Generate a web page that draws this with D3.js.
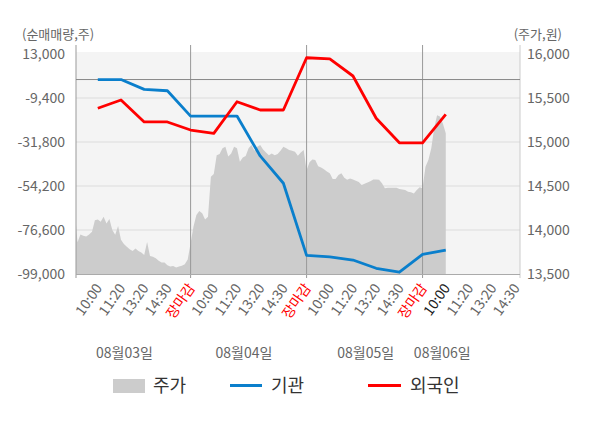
<!DOCTYPE html>
<html>
<head>
<meta charset="utf-8">
<script src="https://cdn.jsdelivr.net/npm/d3@7"></script>
<style>
  body { margin: 0; background: #fff; }
  text { font-family: "Noto Sans CJK KR", "Noto Sans", sans-serif; }
</style>
</head>
<body>
<svg id="chart" width="600" height="428"></svg>
<script>
// --- data -------------------------------------------------------------
const dayLabels = ['08월03일', '08월04일', '08월05일', '08월06일'];
const timeLabels = ['10:00', '11:20', '13:20', '14:30', '장마감',
                    '10:00', '11:20', '13:20', '14:30', '장마감',
                    '10:00', '11:20', '13:20', '14:30', '장마감',
                    '10:00', '11:20', '13:20', '14:30'];

// net buying (shares) at each labelled time, 08/03 10:00 .. 08/06 10:00
const institution = [0, 0, -5000, -5700, -18600, -18600, -18600, -38900,
                     -52800, -89500, -90300, -91900, -96100, -98100, -89000, -86800];
const foreign = [-14600, -10400, -21600, -21600, -25700, -27400, -11300, -15500,
                 -15500, 11100, 10500, 1800, -19700, -32200, -32200, -17700];

// intraday price (won), 8 samples per label step
const price0803 = [14240, 13860, 13950, 13935, 13925, 13950, 13980, 14110, 14120, 14095,
                   14150, 14075, 14125, 14000, 13945, 14045, 13890, 13840, 13810, 13780,
                   13760, 13790, 13760, 13745, 13715, 13865, 13705, 13695, 13680, 13650,
                   13630, 13630, 13600, 13585, 13590, 13575, 13585, 13595, 13610, 13665];
const price0804 = [13850, 14040, 14170, 14215, 14190, 14120, 14150, 14605, 14635, 14850,
                   14865, 14930, 14945, 14835, 14870, 14945, 14930, 14775, 14825, 14840,
                   14930, 14965, 14900, 14945, 14965, 14915, 14880, 14850, 14870, 14850,
                   14865, 14900, 14945, 14930, 14910, 14900, 14890, 14845, 14880, 14910];
const price0805 = [14680, 14770, 14800, 14795, 14725, 14710, 14690, 14665, 14645, 14580,
                   14580, 14625, 14645, 14595, 14570, 14585, 14575, 14560, 14545, 14510,
                   14525, 14540, 14555, 14575, 14575, 14570, 14530, 14475, 14480, 14480,
                   14480, 14480, 14465, 14460, 14455, 14435, 14430, 14415, 14455, 14485];
const price0806 = [14475, 14720, 14795, 14930, 15155, 15305, 15290, 15210, 15100];

const leftTicks = [13000, -9400, -31800, -54200, -76600, -99000];
const rightTicks = [16000, 15500, 15000, 14500, 14000, 13500];

// --- layout -----------------------------------------------------------
const svg = d3.select('#chart');
const plot = { left: 76, right: 520, top: 54, bottom: 274 };
const slotsPerDay = 5;
const dayLabelAt = [2.15, 7.3, 12.55, 15.85];

const x = d3.scaleLinear().domain([0.06, 19.2]).range([plot.left, plot.right]);
const yLeft = d3.scaleLinear().domain([-99000, 13000]).range([plot.bottom, plot.top]);
const yRight = d3.scaleLinear().domain([13500, 16000]).range([plot.bottom, plot.top]);

const fmt = v => d3.format(',')(v).replace('\u2212', '-');

svg.append('defs').append('clipPath').attr('id', 'plotClip')
  .append('rect')
  .attr('x', plot.left).attr('y', plot.top - 2)
  .attr('width', plot.right - plot.left).attr('height', plot.bottom - plot.top + 2);

svg.append('rect')
  .attr('x', plot.left).attr('y', plot.top - 2)
  .attr('width', plot.right - plot.left).attr('height', plot.bottom - plot.top + 2)
  .attr('fill', '#f4f4f4');

// gridlines
svg.append('g').selectAll('line')
  .data(leftTicks.slice(1, -1))
  .join('line')
  .attr('x1', plot.left).attr('x2', plot.right)
  .attr('y1', d => yLeft(d)).attr('y2', d => yLeft(d))
  .attr('stroke', '#dcdcdc');

// price area
const pricePoints = [];
[price0803, price0804, price0805, price0806].forEach((arr, d) => {
  arr.forEach((p, i) => pricePoints.push({ s: d * slotsPerDay + i / 8, p: p }));
});

const area = d3.area()
  .x(d => x(d.s))
  .y0(yRight(13500))
  .y1(d => yRight(d.p));

svg.append('path')
  .datum(pricePoints)
  .attr('clip-path', 'url(#plotClip)')
  .attr('d', area)
  .attr('fill', '#cccccc');

// day separators and axis lines
const separators = [5, 10, 15];
svg.append('g').selectAll('line')
  .data(separators)
  .join('line')
  .attr('x1', d => x(d)).attr('x2', d => x(d))
  .attr('y1', 45).attr('y2', plot.bottom + 4)
  .attr('stroke', '#999');

svg.append('line')
  .attr('x1', plot.left).attr('x2', plot.left)
  .attr('y1', 45).attr('y2', plot.bottom + 4)
  .attr('stroke', '#999');

svg.append('line')
  .attr('x1', plot.right).attr('x2', plot.right)
  .attr('y1', 45).attr('y2', plot.bottom + 4)
  .attr('stroke', '#ccc');

svg.append('line')
  .attr('x1', plot.left).attr('x2', plot.right)
  .attr('y1', plot.bottom + 0.5).attr('y2', plot.bottom + 0.5)
  .attr('stroke', '#aaa');

// zero line
svg.append('line')
  .attr('x1', plot.left).attr('x2', plot.right)
  .attr('y1', yLeft(0)).attr('y2', yLeft(0))
  .attr('stroke', '#888');

// flow lines
const flowLine = d3.line()
  .x((d, i) => x(i + 1))
  .y(d => yLeft(d));

svg.append('path')
  .datum(institution)
  .attr('d', flowLine)
  .attr('fill', 'none')
  .attr('stroke', '#0a7fcc')
  .attr('stroke-width', 2.8)
  .attr('stroke-linejoin', 'round');

svg.append('path')
  .datum(foreign)
  .attr('d', flowLine)
  .attr('fill', 'none')
  .attr('stroke', '#ff0000')
  .attr('stroke-width', 2.8)
  .attr('stroke-linejoin', 'round');

// y axes
const leftAxis = svg.append('g')
  .attr('transform', 'translate(65,0)')
  .call(d3.axisLeft(yLeft).tickValues(leftTicks).tickSize(0).tickPadding(0).tickFormat(fmt));
leftAxis.select('.domain').remove();
leftAxis.selectAll('text')
  .attr('fill', '#666').style('font-size', '14px')
  .style('font-family', '"Noto Sans CJK KR", "Noto Sans", sans-serif');

const rightAxis = svg.append('g')
  .attr('transform', 'translate(527,0)')
  .call(d3.axisRight(yRight).tickValues(rightTicks).tickSize(0).tickPadding(0).tickFormat(fmt));
rightAxis.select('.domain').remove();
rightAxis.selectAll('text')
  .attr('fill', '#666').style('font-size', '14px')
  .style('font-family', '"Noto Sans CJK KR", "Noto Sans", sans-serif');

svg.append('text')
  .attr('x', 22).attr('y', 39)
  .attr('fill', '#666').style('font-size', '13px')
  .text('(순매매량,주)');

svg.append('text')
  .attr('x', 562).attr('y', 39)
  .attr('text-anchor', 'end')
  .attr('fill', '#666').style('font-size', '13px')
  .text('(주가,원)');

// x axis labels
svg.append('g').selectAll('text')
  .data(timeLabels)
  .join('text')
  .attr('transform', (d, i) => 'translate(' + (x(i + 1) + 5) + ',' + (plot.bottom + 14) + ') rotate(-55)')
  .attr('text-anchor', 'end')
  .attr('fill', (d, i) => d === '장마감' ? '#ff0000' : (i === 15 ? '#222' : '#666'))
  .style('font-size', '14px')
  .text(d => d);

svg.append('g').selectAll('text')
  .data(dayLabels)
  .join('text')
  .attr('x', (d, i) => x(dayLabelAt[i]))
  .attr('y', 358)
  .attr('text-anchor', 'middle')
  .attr('fill', '#666')
  .style('font-size', '14px')
  .text(d => d);

// legend
const legend = svg.append('g');
legend.append('rect')
  .attr('x', 113).attr('y', 379).attr('width', 32).attr('height', 14)
  .attr('fill', '#cccccc');
legend.append('text')
  .attr('x', 153).attr('y', 386).attr('dy', '0.35em')
  .attr('fill', '#333').style('font-size', '18px').text('주가');

legend.append('line')
  .attr('x1', 230).attr('x2', 262).attr('y1', 385.5).attr('y2', 385.5)
  .attr('stroke', '#0a7fcc').attr('stroke-width', 3);
legend.append('text')
  .attr('x', 271).attr('y', 386).attr('dy', '0.35em')
  .attr('fill', '#333').style('font-size', '18px').text('기관');

legend.append('line')
  .attr('x1', 368).attr('x2', 401).attr('y1', 385.5).attr('y2', 385.5)
  .attr('stroke', '#ff0000').attr('stroke-width', 3);
legend.append('text')
  .attr('x', 410).attr('y', 386).attr('dy', '0.35em')
  .attr('fill', '#333').style('font-size', '18px').text('외국인');
</script>
</body>
</html>
